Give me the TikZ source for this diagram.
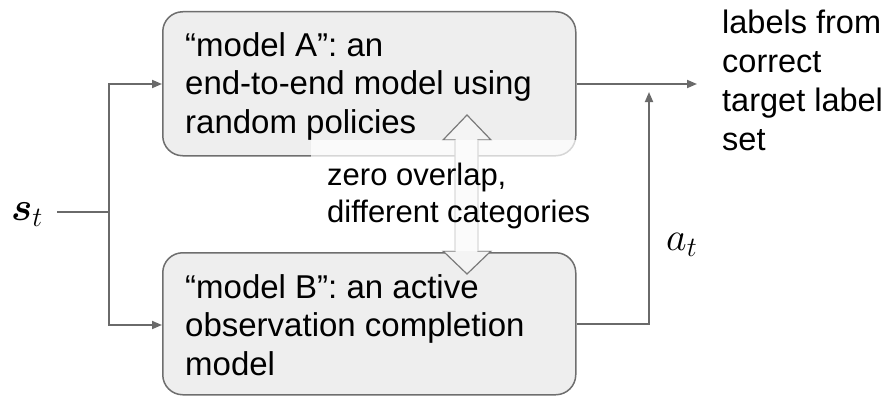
\documentclass[tikz,border=0pt]{standalone}
\usepackage{fix-cm}
\usepackage{amsmath}
\usepackage{fontspec}
\setmainfont{Liberation Sans}
\usetikzlibrary{arrows.meta}
\definecolor{boxfill}{HTML}{EEEEEE}
\definecolor{boxline}{HTML}{6E6E6E}
\definecolor{conn}{HTML}{6A6A6A}
\definecolor{dafill}{HTML}{F4F4F4}
\definecolor{daline}{HTML}{7A7A7A}
\tikzset{
  modelbox/.style={draw=boxline, fill=boxfill, line width=1.5pt, rounded corners=20pt, anchor=north west, inner sep=0pt},
  bodytext/.style={font=\fontsize{33}{38.5}\selectfont, align=left, anchor=north west, inner sep=0pt},
  sidetext/.style={font=\fontsize{32.5}{39}\selectfont, align=left, anchor=north west, inner sep=0pt},
  midtext/.style={font=\fontsize{31}{37}\selectfont, align=left, anchor=north west, inner sep=0pt},
  mathlabel/.style={anchor=base west, inner sep=0pt},
  conn/.style={draw=conn, line width=1.8pt},
  connarrow/.style={conn, -{Triangle[length=10pt,width=8pt]}},
}
\begin{document}
\begin{tikzpicture}[x=1pt,y=-1pt]
\useasboundingbox (0,0) rectangle (885,396);

% model boxes
\node[modelbox, minimum width=413pt, minimum height=144pt] (A) at (162,11) {};
\node[modelbox, minimum width=413pt, minimum height=142pt] (B) at (162,252) {};
\node[bodytext] (Atext) at (185,32) {“model A”: an\\end-to-end model using\\random policies};
\node[bodytext] (Btext) at (185,274) {“model B”: an active\\observation completion\\model};

% hollow double arrow
\path[draw=daline, fill=dafill, line width=1.2pt]
  (467,115) -- (491,140) -- (478,140) -- (478,251) -- (491,251) -- (467,274)
  -- (443,251) -- (455,251) -- (455,140) -- (443,140) -- cycle;

% label with semi-transparent white background
\node[midtext, fill=white, fill opacity=0.72, text opacity=1, inner xsep=16pt, inner ysep=22.7pt] (zero) at (311,140) {zero overlap,\\different categories};

% inputs / outputs
\node[mathlabel, font=\fontsize{40}{48}\selectfont] (s) at (11,220) {$\boldsymbol{s}_t$};
\node[mathlabel, font=\fontsize{40}{48}\selectfont] (a) at (666,250) {$a_t$};
\node[sidetext] (labels) at (722,10) {labels from\\correct\\target label\\set};

\coordinate (j) at (109,212);
\coordinate (sin) at (57,212);
\coordinate (bout) at (649,324);
\coordinate (aup) at (649,92);
\coordinate (outA) at (697,84);

\draw[conn] (sin) -- (j);
\draw[connarrow] (j) |- (A.west |- 0,84);
\draw[connarrow] (j) |- (B.west |- 0,325);
\draw[connarrow] (A.east |- 0,84) -- (outA);
\draw[connarrow] (B.east |- bout) -- (bout) -- (aup);
\end{tikzpicture}
\end{document}
